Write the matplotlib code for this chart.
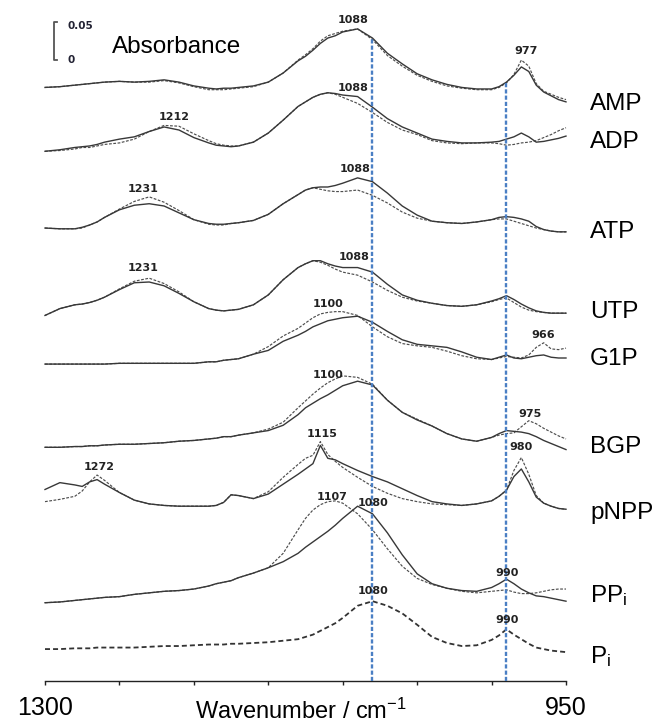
import numpy as np
import matplotlib
matplotlib.use('Agg')
import matplotlib.pyplot as plt

plt.rcParams['font.family'] = ['Liberation Sans', 'DejaVu Sans']
plt.rcParams['mathtext.fontset'] = 'custom'
plt.rcParams['mathtext.rm'] = 'Liberation Sans'
plt.rcParams['mathtext.it'] = 'Liberation Sans:italic'
plt.rcParams['lines.scale_dashes'] = False

# ---------------- data (absorbance values in units of 0.001) ----------------
wavenumber = [1300, 1290, 1280, 1275, 1270, 1265, 1260, 1250, 1240, 1230,
              1220, 1210, 1200, 1190, 1185, 1180, 1175, 1170, 1160, 1150,
              1140, 1130, 1125, 1120, 1115, 1110, 1105, 1100, 1090, 1080,
              1070, 1060, 1050, 1040, 1030, 1020, 1010, 1000, 995, 990,
              985, 980, 975, 970, 965, 960, 955, 950]

amp_solid = [0, 1, 3, 4, 5, 6, 7, 8, 7, 8, 10, 7, 2, -1, -2, -1, -1, 0, 2, 7,
             19, 35, 41, 49, 58, 65, 68, 73, 77, 65, 45, 31, 18, 10, 4, 0, -2, -2, 1, 7,
             16, 27, 21, 3, -6, -11, -16, -19]
amp_dashed = [0, 1, 3, 4, 5, 6, 7, 8, 7, 7, 9, 6, 1, -3, -3, -3, -2, -1, 1, 7,
              19, 36, 43, 51, 61, 68, 71, 74, 77, 63, 42, 28, 16, 8, 2, -1, -3, -3, 0, 6,
              17, 36, 28, 5, -5, -9, -13, -16]

adp_solid = [0, 2, 5, 6, 7, 9, 12, 16, 19, 26, 32, 28, 18, 11, 8, 7, 6, 7, 12, 24,
             41, 59, 65, 71, 75, 77, 76, 74, 72, 58, 43, 32, 24, 16, 13, 11, 11, 12, 13, 16,
             19, 24, 19, 12, 13, 15, 17, 20]
adp_dashed = [0, 1, 3, 5, 5, 7, 9, 11, 16, 26, 34, 33, 23, 14, 10, 8, 7, 7, 12, 24,
              41, 59, 65, 71, 75, 77, 75, 71, 63, 51, 38, 28, 22, 14, 11, 10, 11, 11, 10, 8,
              9, 11, 12, 14, 18, 22, 27, 31]

atp_solid = [0, -1, -1, 1, 4, 8, 14, 24, 30, 32, 29, 20, 11, 6, 5, 5, 6, 7, 10, 18,
             32, 44, 50, 53, 54, 54, 56, 59, 66, 61, 46, 29, 17, 9, 7, 6, 8, 11, 14, 15,
             14, 12, 9, 2, -2, -4, -5, -5]
atp_dashed = [0, -1, -1, 0, 4, 8, 14, 25, 35, 41, 34, 23, 11, 5, 4, 4, 6, 7, 10, 18,
              32, 44, 50, 53, 51, 49, 48, 48, 50, 43, 33, 21, 13, 9, 7, 6, 8, 11, 12, 12,
              9, 6, 3, 0, -2, -4, -5, -5]

utp_solid = [0, 9, 14, 15, 17, 20, 24, 34, 43, 44, 39, 29, 18, 9, 7, 6, 7, 8, 14, 27,
             47, 63, 68, 72, 72, 68, 65, 63, 63, 57, 41, 27, 20, 16, 13, 12, 14, 19, 22, 26,
             21, 15, 10, 6, 4, 3, 3, 3]
utp_dashed = [0, 9, 14, 15, 17, 20, 24, 35, 45, 49, 42, 31, 18, 9, 7, 6, 7, 8, 14, 27,
              47, 63, 68, 72, 70, 66, 61, 57, 53, 44, 33, 24, 19, 16, 13, 12, 14, 18, 21, 23,
              17, 11, 7, 5, 4, 3, 3, 3]

g1p_solid = [0, 0, 0, 0, 0, 0, 0, 1, 1, 1, 1, 1, 1, 3, 3, 5, 6, 7, 13, 18,
             30, 38, 43, 49, 53, 57, 59, 61, 63, 55, 43, 32, 26, 24, 22, 16, 9, 6, 9, 12,
             8, 7, 9, 11, 12, 9, 8, 8]
g1p_dashed = [0, 0, 0, 0, 0, 0, 0, 1, 1, 1, 1, 1, 1, 3, 3, 5, 6, 7, 13, 23,
              37, 47, 54, 61, 66, 68, 69, 69, 64, 49, 36, 27, 24, 22, 17, 11, 7, 6, 8, 10,
              9, 8, 12, 22, 28, 20, 19, 21]

bgp_solid = [0, 0, 1, 1, 2, 2, 3, 4, 4, 5, 6, 8, 9, 11, 12, 14, 14, 16, 19, 22,
             29, 43, 52, 58, 64, 69, 75, 81, 87, 82, 62, 46, 36, 28, 18, 11, 8, 13, 18, 22,
             21, 20, 18, 14, 9, 5, 1, -3]
bgp_dashed = [0, 0, 1, 1, 2, 2, 3, 4, 4, 5, 6, 8, 9, 11, 12, 14, 14, 16, 19, 24,
              33, 52, 61, 70, 78, 85, 90, 94, 92, 83, 62, 46, 37, 28, 18, 11, 8, 13, 16, 18,
              19, 27, 35, 31, 25, 20, 15, 11]

pnpp_solid = [22, 31, 28, 26, 32, 35, 29, 18, 8, 3, 1, 0, 0, 0, 1, 5, 15, 14, 10, 16,
              29, 42, 49, 56, 80, 63, 61, 56, 47, 39, 32, 23, 14, 6, 3, 1, 3, 7, 13, 21,
              39, 49, 32, 12, 4, 0, -3, -4]
pnpp_dashed = [6, 9, 13, 20, 32, 41, 34, 18, 8, 3, 1, 0, 0, 0, 1, 5, 15, 14, 10, 19,
               38, 55, 63, 67, 85, 68, 59, 51, 38, 26, 17, 10, 6, 3, 2, 1, 3, 7, 13, 21,
               47, 64, 42, 14, 4, 0, -3, -4]

ppi_solid = [0, 1, 3, 4, 5, 6, 7, 8, 11, 13, 15, 16, 18, 22, 25, 27, 29, 33, 39, 46,
             54, 65, 73, 80, 87, 94, 102, 111, 127, 117, 92, 63, 38, 25, 19, 16, 15, 20, 25, 31,
             25, 18, 13, 9, 8, 6, 4, 2]
ppi_dashed = [0, 1, 3, 4, 5, 6, 7, 8, 11, 13, 15, 16, 18, 22, 25, 27, 29, 33, 39, 46,
              65, 96, 111, 122, 129, 133, 134, 131, 117, 96, 71, 48, 32, 24, 19, 15, 13, 15, 16, 17,
              14, 12, 12, 13, 15, 17, 18, 18]

pi_dashed = [0, 0, 1, 1, 1, 2, 2, 2, 2, 3, 4, 4, 5, 6, 6, 6, 7, 7, 8, 9,
             11, 13, 16, 19, 24, 29, 34, 41, 57, 63, 57, 47, 32, 16, 8, 4, 5, 12, 18, 26,
             19, 13, 7, 2, 0, -2, -3, -4]

sample_names = ['AMP', 'ADP', 'ATP', 'UTP', 'G1P', 'BGP', 'pNPP',
                'PP$_{\\mathrm{i}}$', 'P$_{\\mathrm{i}}$']
solid_series = [amp_solid, adp_solid, atp_solid, utp_solid, g1p_solid,
                bgp_solid, pnpp_solid, ppi_solid, None]
dashed_series = [amp_dashed, adp_dashed, atp_dashed, utp_dashed, g1p_dashed,
                 bgp_dashed, pnpp_dashed, ppi_dashed, pi_dashed]
# vertical stacking offsets (absorbance)
offsets = [0.781, 0.697, 0.596, 0.481, 0.417, 0.3075, 0.230, 0.103, 0.042]

marker_lines = [1080, 990]
# peak labels: (text, figure-pixel x, figure-pixel baseline y)
peak_labels = [('1088', 353, 23), ('977', 526, 54),
               ('1088', 353, 91), ('1212', 174, 120),
               ('1231', 143, 192), ('1088', 355, 172),
               ('1231', 143, 271), ('1088', 354, 260),
               ('1100', 328, 307), ('966', 543, 338),
               ('1100', 328, 378), ('975', 530, 417),
               ('1115', 322, 437), ('980', 521, 450), ('1272', 99, 470),
               ('1107', 332, 500), ('1080', 373, 506), ('990', 507, 576),
               ('1080', 373, 594), ('990', 507, 623)]
name_baselines = [110, 148, 238, 318, 365, 453, 519, 602, 663]

W, H = 657, 725
fig = plt.figure(figsize=(W / 100, H / 100), dpi=100)
ax = fig.add_axes([45 / W, 44 / H, 521 / W, 681 / H])
ax.set_xlim(1300, 950)
ax.set_ylim(0, 681 / 760)

x = np.array(wavenumber)
solid_kw = dict(color='#383838', lw=1.0, solid_joinstyle='round')
dash_kw = dict(color='#4e4e4e', lw=0.85, dashes=(2.0, 1.1))
for s, d, off in zip(solid_series, dashed_series, offsets):
    if s is None:
        ax.plot(x, off + np.array(d) * 1e-3, color='#333333', lw=1.3,
                dashes=(3.6, 2.2), clip_on=False)
    else:
        ax.plot(x, off + np.array(d) * 1e-3, clip_on=False, **dash_kw)
        ax.plot(x, off + np.array(s) * 1e-3, clip_on=False, **solid_kw)

# blue marker lines, up to the top (AMP) trace
for wn in marker_lines:
    i = wavenumber.index(wn)
    top = offsets[0] + amp_solid[i] * 1e-3
    ax.plot([wn, wn], [0, top], color='#4a7fc4', lw=1.7, dashes=(3.0, 1.5),
            zorder=5)

# scale bar: 0.05 absorbance
sb_base = 0.817
ax.plot([1292, 1294, 1294, 1292], [sb_base + 0.05, sb_base + 0.05, sb_base, sb_base],
        color='#555555', lw=1.3, clip_on=False)

for sp in ['left', 'right', 'top']:
    ax.spines[sp].set_visible(False)
ax.spines['bottom'].set_linewidth(1.0)
ax.spines['bottom'].set_color('#222222')
ticks = list(range(950, 1301, 50))
ax.set_xticks(ticks)
ax.set_xticklabels(['950'] + [''] * (len(ticks) - 2) + ['1300'])
ax.tick_params(axis='x', direction='out', length=3, width=1.0, pad=8,
               labelsize=18, color='#222222')
ax.set_yticks([])


def fx(px):
    return px / W


def fy(py):
    return 1 - py / H


for txt, px, py in peak_labels:
    fig.text(fx(px), fy(py), txt, ha='center', va='baseline', fontsize=8,
             fontweight='bold', family='DejaVu Sans', color='#222222')

for name, py in zip(sample_names, name_baselines):
    fig.text(fx(590), fy(py), name, ha='left', va='baseline', fontsize=17.5)

fig.text(fx(112), fy(53), 'Absorbance', ha='left', va='baseline', fontsize=17.5)
fig.text(fx(67), fy(29), '0.05', ha='left', va='baseline', fontsize=7.5,
         fontweight='bold', family='DejaVu Sans', color='#222233')
fig.text(fx(67), fy(63), '0', ha='left', va='baseline', fontsize=7.5,
         fontweight='bold', family='DejaVu Sans', color='#222233')

fig.text(fx(301), fy(719), 'Wavenumber / cm$^{\\mathrm{-1}}$', ha='center',
         va='baseline', fontsize=17)

fig.savefig('out.png', dpi=100)
